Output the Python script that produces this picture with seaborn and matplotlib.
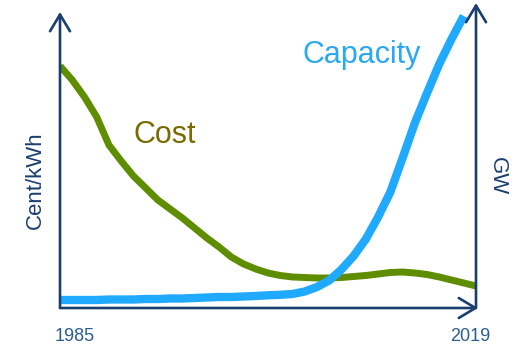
import matplotlib
matplotlib.use("Agg")
import matplotlib.pyplot as plt
import matplotlib.transforms as mtransforms
import pandas as pd
import seaborn as sns

# --- data -------------------------------------------------------------
cost_years = list(range(1985, 2020))
cost_values = [242, 228, 211, 191, 163, 147, 132, 120, 108, 99,
               90, 80, 70, 61, 51, 44, 39, 35, 32.5, 31,
               30.5, 30, 30, 30.5, 31.5, 32.5, 34, 35.5, 36, 35,
               33.5, 31, 28, 25, 22]

capacity_years = list(range(1985, 2019))
capacity_values = [8, 8, 8, 8, 8.5, 8.5, 8.5, 9, 9, 9.5,
                   9.5, 10, 10.5, 11, 11, 11.5, 12, 12.7, 13.2, 14,
                   16.5, 21, 27.5, 38.5, 52, 69, 91, 116, 150, 185,
                   215, 244, 269, 292]

x_ticks = [1985, 2019]
x_tick_labels = ["1985", "2019"]
cost_label = "Cost"
capacity_label = "Capacity"
left_axis_label = "Cent/kWh"
right_axis_label = "GW"

# --- style ------------------------------------------------------------
sns.set_style("white")
plt.rcParams["font.family"] = ["Liberation Sans", "DejaVu Sans"]

NAVY = "#1A3F6F"
TICK_BLUE = "#2A5E8E"
GREEN = "#5F8D00"
OLIVE = "#7A6A00"
BLUE = "#1FAAFF"
BLUE_TEXT = "#2AA9F3"

fig = plt.figure(figsize=(5.18, 3.5), dpi=100)
ax = fig.add_axes([60 / 518, 42 / 350, 416 / 518, 305 / 350])

cost_df = pd.DataFrame({"year": cost_years, "value": cost_values})
cap_df = pd.DataFrame({"year": capacity_years, "value": capacity_values})

sns.lineplot(data=cost_df, x="year", y="value", ax=ax, color=GREEN,
             linewidth=5.0, solid_capstyle="butt", solid_joinstyle="round",
             zorder=3)
sns.lineplot(data=cap_df, x="year", y="value", ax=ax, color=BLUE,
             linewidth=6.0, solid_capstyle="butt", solid_joinstyle="round",
             zorder=4)

ax.set_xlim(1985, 2019)
ax.set_ylim(0, 305)
ax.set_yticks([])
ax.set_xlabel("")
ax.set_ylabel("")
for s in ax.spines.values():
    s.set_visible(False)

# year labels under the baseline
ax.set_xticks(x_ticks)
ax.set_xticklabels(x_tick_labels, fontsize=13, color=TICK_BLUE)
ax.tick_params(axis="x", length=0, pad=14.5)
lbls = ax.get_xticklabels()
lbls[0].set_ha("left")
lbls[0].set_transform(lbls[0].get_transform() +
                      mtransforms.ScaledTranslation(-5 / 100, 0, fig.dpi_scale_trans))
lbls[1].set_transform(lbls[1].get_transform() +
                      mtransforms.ScaledTranslation(-6 / 100, 0, fig.dpi_scale_trans))

# axes drawn as open arrows
arrow = dict(arrowstyle="->,head_length=1.2,head_width=0.72", lw=1.9,
             color=NAVY, shrinkA=0, shrinkB=0, mutation_scale=10)
ax.annotate("", xy=(0, 296 / 305), xytext=(0, 0), xycoords="axes fraction",
            textcoords="axes fraction", arrowprops=arrow, zorder=5)
ax.annotate("", xy=(1, 1), xytext=(1, 0), xycoords="axes fraction",
            textcoords="axes fraction", arrowprops=arrow, zorder=5)
ax.annotate("", xy=(418 / 416, 0), xytext=(0, 0), xycoords="axes fraction",
            textcoords="axes fraction", arrowprops=arrow, zorder=5)

# series and axis labels
ax.text(1991.0, 165, cost_label, fontsize=22, color=OLIVE, ha="left", va="baseline")
ax.text(2004.8, 245, capacity_label, fontsize=22, color=BLUE_TEXT, ha="left", va="baseline")
fig.text(35 / 518, 1 - 180 / 350, left_axis_label, rotation=90, fontsize=16,
         color=NAVY, ha="center", va="center")
fig.text(497 / 518, 1 - 176 / 350, right_axis_label, rotation=-90, fontsize=16,
         color=NAVY, ha="center", va="center")

fig.savefig("out.png", dpi=100)
